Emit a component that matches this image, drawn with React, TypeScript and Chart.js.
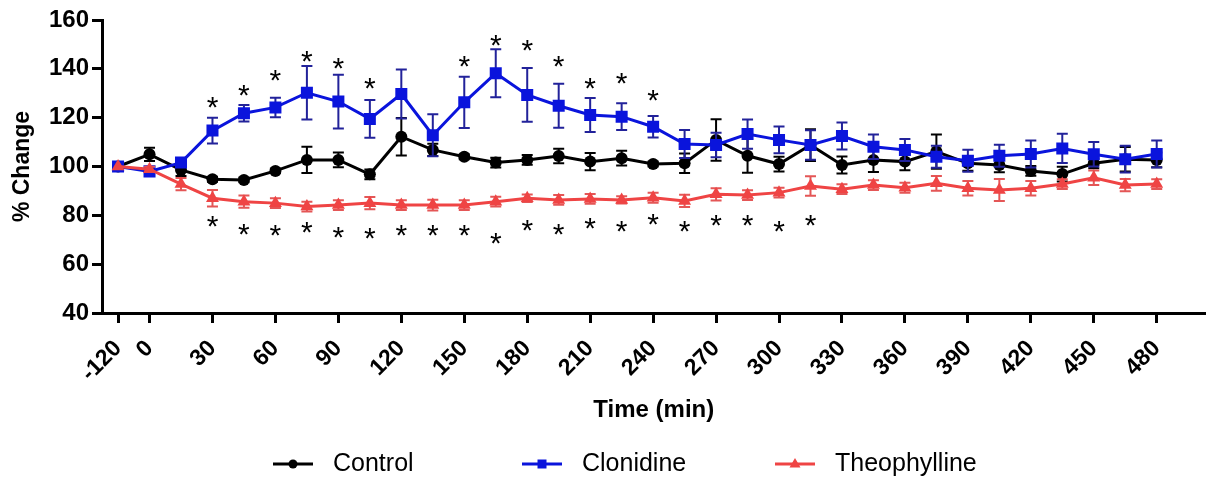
import { useEffect, useRef } from "react";
import { Chart, registerables } from "chart.js";

Chart.register(...registerables);

const FONT = "'Liberation Sans', Arial, Helvetica, sans-serif";

// time points (min)
const times = [-120, 0, 15, 30, 45, 60, 75, 90, 105, 120, 135, 150, 165, 180, 195, 210, 225, 240, 255, 270, 285, 300, 315, 330, 345, 360, 375, 390, 405, 420, 435, 450, 465, 480];
// labelled ticks on the time axis
const xTickTimes = [-120, 0, 30, 60, 90, 120, 150, 180, 210, 240, 270, 300, 330, 360, 390, 420, 450, 480];

const control = [100, 105, 98.6, 94.8, 94.5, 98.2, 102.7, 102.7, 96.8, 112.2, 106.8, 104.0, 101.6, 102.7, 104.3, 102.0, 103.4, 101.0, 101.3, 110.9, 104.4, 101.0, 108.8, 100.6, 102.7, 102.0, 106.1, 101.3, 100.6, 98.2, 96.9, 101.3, 103.0, 102.7];
const controlErr = [0, 2.7, 2.5, 1, 1, 1, 5.4, 3, 2, 7.7, 2.5, 1, 2, 2, 3, 3.5, 3, 1, 4, 8.5, 7, 3, 6.5, 3.5, 5, 3.5, 7, 3, 3, 2, 3, 2, 5, 3];

const clonidine = [100, 98, 101.6, 114.7, 121.8, 124.2, 130.2, 126.6, 119.5, 129.7, 112.8, 126.3, 138.2, 129.3, 124.9, 121.1, 120.4, 116.3, 109.2, 108.8, 113.3, 110.9, 108.8, 112.5, 108.1, 106.8, 104.0, 102.4, 104.4, 105.1, 107.4, 105.0, 103.0, 105.1];
const clonidineErr = [0, 1, 1.5, 5.3, 3.4, 4, 11, 11, 7.7, 10, 8.6, 10.5, 9.8, 11, 9, 7, 5.5, 4.4, 5.7, 5, 6, 5.5, 6, 5.5, 5, 4.5, 4.5, 4.5, 4.5, 5.5, 6, 5, 5.5, 5.5];

const theophylline = [100, 98.9, 92.8, 87.0, 85.6, 85.0, 83.6, 84.2, 85.0, 84.2, 84.2, 84.2, 85.6, 87.0, 86.3, 86.7, 86.3, 87.2, 85.9, 88.6, 88.3, 89.3, 92.0, 90.7, 92.4, 91.3, 93.1, 91.1, 90.4, 91.1, 92.8, 95.4, 92.4, 92.8];
const theophyllineErr = [0, 1, 2.5, 3.4, 2.5, 2, 2, 2, 2.5, 2, 2.2, 2, 2, 1.5, 2, 2, 1.5, 2, 2.5, 2.5, 2, 2, 4, 2, 2, 2, 3, 3, 4.5, 3, 2, 3, 2.5, 2];

// significance asterisks: time and the level (% change) at which each sits
const clonidineStarTimes = [30, 45, 60, 75, 90, 105, 150, 165, 180, 195, 210, 225, 240];
const clonidineStarLevels = [126.1, 131.3, 137.1, 145, 142.3, 134.1, 142.9, 151.5, 149.4, 142.9, 134.1, 136.1, 128.9];
const theophyllineStarTimes = [30, 45, 60, 75, 90, 105, 120, 135, 150, 165, 180, 195, 210, 225, 240, 255, 270, 285, 300, 315];
const theophyllineStarLevels = [77.4, 74.4, 73.7, 75.1, 72.9, 72.4, 73.7, 73.7, 73.7, 70.6, 75.8, 74.4, 76.7, 75.6, 78.1, 75.6, 77.8, 77.8, 75.6, 77.8];

const toPoints = (vals: number[]) => vals.map((v, i) => ({ x: i, y: v }));

const errorBarPlugin = {
  id: "errorBars",
  beforeDatasetDraw(chart: any, args: any) {
    const ds = chart.data.datasets[args.index];
    if (!ds.errors) return;
    const ctx = chart.ctx;
    const yScale = chart.scales.y;
    ctx.save();
    ctx.strokeStyle = ds.errorColor;
    ctx.lineWidth = 2;
    args.meta.data.forEach((pt: any, i: number) => {
      const e = ds.errors[i];
      if (!e) return;
      const v = ds.data[i].y;
      const yt = yScale.getPixelForValue(v + e);
      const yb = yScale.getPixelForValue(v - e);
      const x = pt.x;
      ctx.beginPath();
      ctx.moveTo(x, yt);
      ctx.lineTo(x, yb);
      ctx.moveTo(x - 5.5, yt);
      ctx.lineTo(x + 5.5, yt);
      ctx.moveTo(x - 5.5, yb);
      ctx.lineTo(x + 5.5, yb);
      ctx.stroke();
    });
    ctx.restore();
  },
};

const starPlugin = {
  id: "stars",
  afterDatasetsDraw(chart: any) {
    const ctx = chart.ctx;
    const xs = chart.scales.x;
    const ys = chart.scales.y;
    ctx.save();
    ctx.fillStyle = "#000";
    ctx.font = `30px ${FONT}`;
    ctx.textAlign = "center";
    ctx.textBaseline = "alphabetic";
    const m = ctx.measureText("*");
    const off = (m.actualBoundingBoxAscent - m.actualBoundingBoxDescent) / 2;
    const draw = (ts: number[], lv: number[]) => {
      ts.forEach((t, k) => {
        const x = xs.getPixelForValue(times.indexOf(t));
        const y = ys.getPixelForValue(lv[k]);
        ctx.fillText("*", x, y + off);
      });
    };
    draw(clonidineStarTimes, clonidineStarLevels);
    draw(theophyllineStarTimes, theophyllineStarLevels);
    ctx.restore();
  },
};

const legendPlugin = {
  id: "customLegend",
  afterDraw(chart: any) {
    const ctx = chart.ctx;
    const starts = [273, 522, 775];
    const cy = 464;
    ctx.save();
    chart.data.datasets.forEach((ds: any, i: number) => {
      const x0 = starts[i];
      ctx.strokeStyle = ds.borderColor;
      ctx.fillStyle = ds.borderColor;
      ctx.lineWidth = 3;
      ctx.beginPath();
      ctx.moveTo(x0, cy);
      ctx.lineTo(x0 + 40, cy);
      ctx.stroke();
      const mx = x0 + 20;
      ctx.beginPath();
      if (ds.pointStyle === "circle") {
        ctx.arc(mx, cy, 4.5, 0, Math.PI * 2);
      } else if (ds.pointStyle === "rect") {
        ctx.rect(mx - 4.5, cy - 4.5, 9, 9);
      } else {
        ctx.moveTo(mx, cy - 6);
        ctx.lineTo(mx + 5.5, cy + 3.5);
        ctx.lineTo(mx - 5.5, cy + 3.5);
        ctx.closePath();
      }
      ctx.fill();
      ctx.fillStyle = "#000";
      ctx.font = `25px ${FONT}`;
      ctx.textAlign = "left";
      ctx.textBaseline = "middle";
      ctx.fillText(ds.label, x0 + 60, cy);
    });
    ctx.restore();
  },
};

export default function App() {
  const ref = useRef<HTMLCanvasElement | null>(null);

  useEffect(() => {
    if (!ref.current) return;
    const chart = new Chart(ref.current, {
      type: "line",
      data: {
        datasets: [
          {
            label: "Control",
            data: toPoints(control),
            errors: controlErr,
            errorColor: "#000000",
            borderColor: "#000000",
            backgroundColor: "#000000",
            borderWidth: 3,
            pointStyle: "circle",
            pointRadius: 6,
            pointBorderWidth: 0,
            order: 3,
          } as any,
          {
            label: "Clonidine",
            data: toPoints(clonidine),
            errors: clonidineErr,
            errorColor: "#22229a",
            borderColor: "#0a14dc",
            backgroundColor: "#0a14dc",
            borderWidth: 3,
            pointStyle: "rect",
            pointRadius: 8.5,
            pointBorderWidth: 0,
            order: 2,
          } as any,
          {
            label: "Theophylline",
            data: toPoints(theophylline),
            errors: theophyllineErr,
            errorColor: "#e45656",
            borderColor: "#ef4444",
            backgroundColor: "#ef4444",
            borderWidth: 3,
            pointStyle: "triangle",
            pointRadius: 7.5,
            pointBorderWidth: 0,
            order: 1,
          } as any,
        ],
      },
      options: {
        animation: false,
        responsive: false,
        devicePixelRatio: 1,
        layout: { padding: { left: 0, right: 0, top: 20, bottom: 49 } },
        plugins: {
          legend: { display: false },
          tooltip: { enabled: false },
        },
        elements: { line: { tension: 0 } },
        scales: {
          x: {
            type: "linear",
            min: -0.51,
            max: 34.55,
            afterBuildTicks: (s: any) => {
              s.ticks = xTickTimes.map((t) => ({ value: times.indexOf(t) }));
            },
            afterFit: (s: any) => {
              s.height = 117;
            },
            ticks: {
              autoSkip: false,
              maxRotation: 45,
              minRotation: 45,
              padding: 12,
              color: "#000",
              font: { family: FONT, size: 23, weight: "bold" },
              callback: (v: any) => String(times[v]),
            },
            grid: {
              drawOnChartArea: false,
              drawTicks: true,
              tickLength: 10,
              tickWidth: 3,
              tickColor: "#000",
            },
            border: { display: true, width: 3, color: "#000" },
            title: {
              display: true,
              text: "Time (min)",
              color: "#000",
              font: { family: FONT, size: 24, weight: "bold" },
              padding: { top: 0, bottom: 5 },
            },
          },
          y: {
            min: 40,
            max: 160,
            afterFit: (s: any) => {
              s.width = 102;
            },
            ticks: {
              stepSize: 20,
              padding: 3,
              color: "#000",
              font: { family: FONT, size: 24, weight: "bold" },
            },
            grid: {
              drawOnChartArea: false,
              drawTicks: true,
              tickLength: 10,
              tickWidth: 3,
              tickColor: "#000",
            },
            border: { display: true, width: 3, color: "#000" },
            title: {
              display: true,
              text: "% Change",
              color: "#000",
              font: { family: FONT, size: 23, weight: "bold" },
              padding: { top: 9, bottom: 0 },
            },
          },
        },
      } as any,
      plugins: [errorBarPlugin, starPlugin, legendPlugin],
    });
    return () => chart.destroy();
  }, []);

  return (
    <div style={{ position: "fixed", left: 0, top: 0, width: 1214, height: 479, background: "#fff" }}>
      <canvas ref={ref} width={1214} height={479} style={{ display: "block" }} />
    </div>
  );
}
